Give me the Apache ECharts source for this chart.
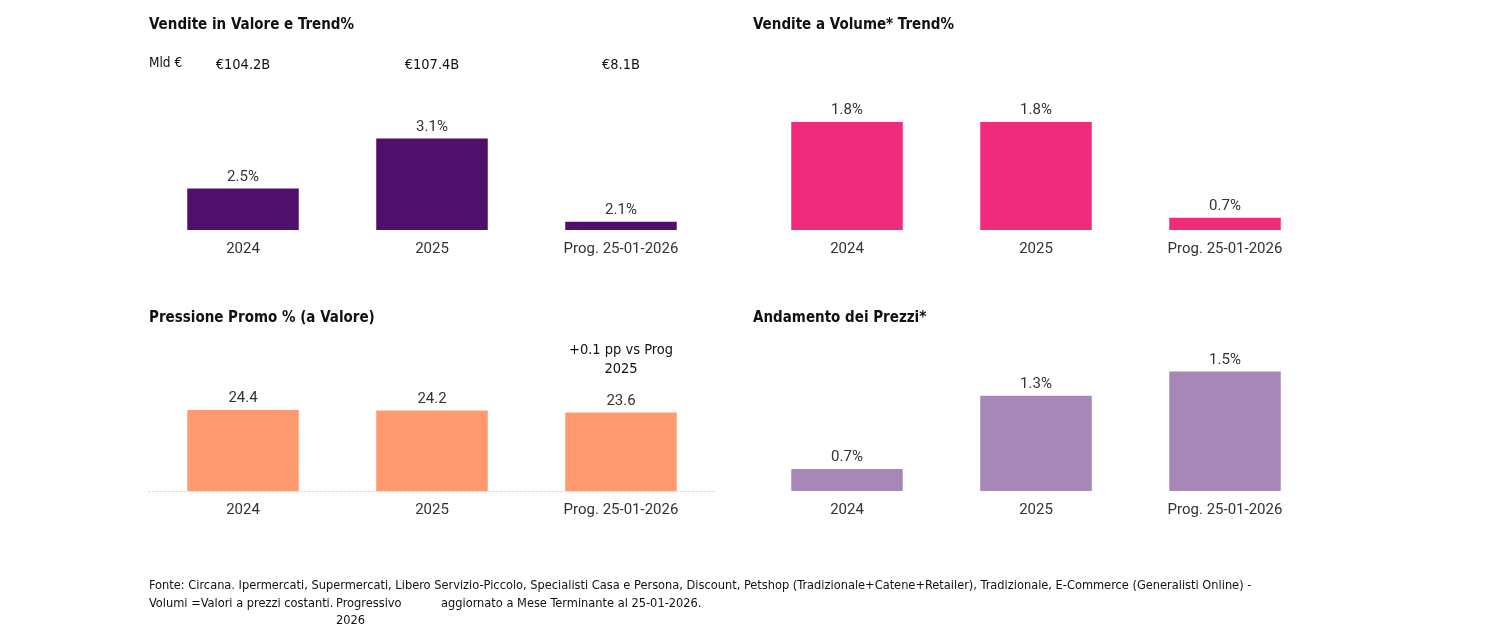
<!DOCTYPE html>
<html>
<head>
<meta charset="utf-8">
<script src="https://cdn.jsdelivr.net/npm/echarts@6/dist/echarts.min.js"></script>
<style>html,body{margin:0;padding:0;background:#fff}#c{width:1500px;height:639px}</style>
</head>
<body>
<div id="c"></div>
<script>
// ---- data ----
const categories = ['2024', '2025', 'Prog. 25-01-2026'];
const valueTrend = [2.5, 3.1, 2.1];          // Vendite in Valore Trend %
const valueTotals = ['€104.2B', '€107.4B', '€8.1B'];
const volumeTrend = [1.8, 1.8, 0.7];         // Vendite a Volume Trend %
const promoPressure = [24.4, 24.2, 23.6];    // Pressione Promo %
const promoNotes = ['', '', '+0.1 pp vs Prog\n2025'];
const priceTrend = [0.7, 1.3, 1.5];          // Andamento dei Prezzi %
const titles = ['Vendite in Valore e Trend%', 'Vendite a Volume* Trend%', 'Pressione Promo % (a Valore)', 'Andamento dei Prezzi*'];

const NARROW = '"DejaVu Sans Condensed", "Liberation Sans Narrow", sans-serif';
const BODY = 'Roboto, "Noto Sans", sans-serif';

const chart = echarts.init(document.getElementById('c'), null, {renderer: 'canvas'});

function catAxis(gridIndex, showLine) {
  return {
    type: 'category', gridIndex, data: categories,
    axisTick: {show: false},
    axisLine: {show: showLine, lineStyle: {color: '#dcdcdc', type: [2, 2], width: 1}},
    axisLabel: {color: '#333', fontFamily: BODY, fontSize: 15, margin: 12}
  };
}
function topAxis(gridIndex, labels, lh, margin) {
  return {
    type: 'category', gridIndex, position: 'top', data: labels,
    axisTick: {show: false}, axisLine: {show: false},
    axisLabel: {color: '#111', fontFamily: NARROW, fontSize: 14.5, margin, lineHeight: lh, interval: 0}
  };
}
function valAxis(gridIndex, min, max) {
  return {type: 'value', gridIndex, min, max, show: false, splitLine: {show: false}};
}
function barSeries(idx, data, color, fmt) {
  return {
    type: 'bar', xAxisIndex: idx, yAxisIndex: idx, data, barWidth: '59%',
    itemStyle: {color},
    label: {show: true, position: 'top', distance: 4, color: '#333', fontFamily: BODY, fontSize: 15,
      formatter: p => fmt(p.value)}
  };
}
const pct = v => v.toFixed(1) + '%';
const num = v => v.toFixed(1);

const titleStyle = {fontFamily: NARROW, fontSize: 15, fontWeight: 'bold', color: '#111'};

const option = {
  animation: false,
  title: [
    {text: titles[0], left: 144, top: 13, textStyle: titleStyle},
    {text: titles[1], left: 748, top: 13, textStyle: titleStyle},
    {text: titles[2], left: 144, top: 306, textStyle: titleStyle},
    {text: titles[3], left: 748, top: 306, textStyle: titleStyle},
    {text: 'Mld €', left: 144, top: 51, textStyle: {fontFamily: NARROW, fontSize: 13.5, fontWeight: 'normal', color: '#111'}}
  ],
  grid: [
    {left: 148.5, width: 567, top: 76, height: 154},
    {left: 752.5, width: 567, top: 76, height: 154},
    {left: 148.5, width: 567, top: 380, height: 111},
    {left: 752.5, width: 567, top: 340, height: 151}
  ],
  xAxis: [
    catAxis(0, false), catAxis(1, false), catAxis(2, true), catAxis(3, false),
    topAxis(0, valueTotals, 18, 2),
    topAxis(2, promoNotes, 19, 1)
  ],
  yAxis: [
    valAxis(0, 2.0, 3.85), valAxis(1, 0.56, 2.33), valAxis(2, 0, 33.4), valAxis(3, 0.52, 1.758)
  ],
  series: [
    barSeries(0, valueTrend, '#4E106A', pct),
    barSeries(1, volumeTrend, '#F02B7B', pct),
    barSeries(2, promoPressure, '#FF9A70', num),
    barSeries(3, priceTrend, '#A787B8', pct)
  ],
  graphic: [
    {type: 'text', left: 149, top: 579, style: {text: 'Fonte: Circana. Ipermercati, Supermercati, Libero Servizio-Piccolo, Specialisti Casa e Persona, Discount, Petshop (Tradizionale+Catene+Retailer), Tradizionale, E-Commerce (Generalisti Online) -', fontFamily: NARROW, fontSize: 12.7, fill: '#111'}},
    {type: 'text', left: 149, top: 597, style: {text: 'Volumi =Valori a prezzi costanti.', fontFamily: NARROW, fontSize: 12.7, fill: '#111'}},
    {type: 'text', left: 336, top: 597, style: {text: 'Progressivo', fontFamily: NARROW, fontSize: 12.7, fill: '#111'}},
    {type: 'text', left: 336, top: 614, style: {text: '2026', fontFamily: NARROW, fontSize: 12.7, fill: '#111'}},
    {type: 'text', left: 441, top: 597, style: {text: 'aggiornato a Mese Terminante al 25-01-2026.', fontFamily: NARROW, fontSize: 12.7, fill: '#111'}}
  ]
};
chart.setOption(option);
</script>
</body>
</html>
